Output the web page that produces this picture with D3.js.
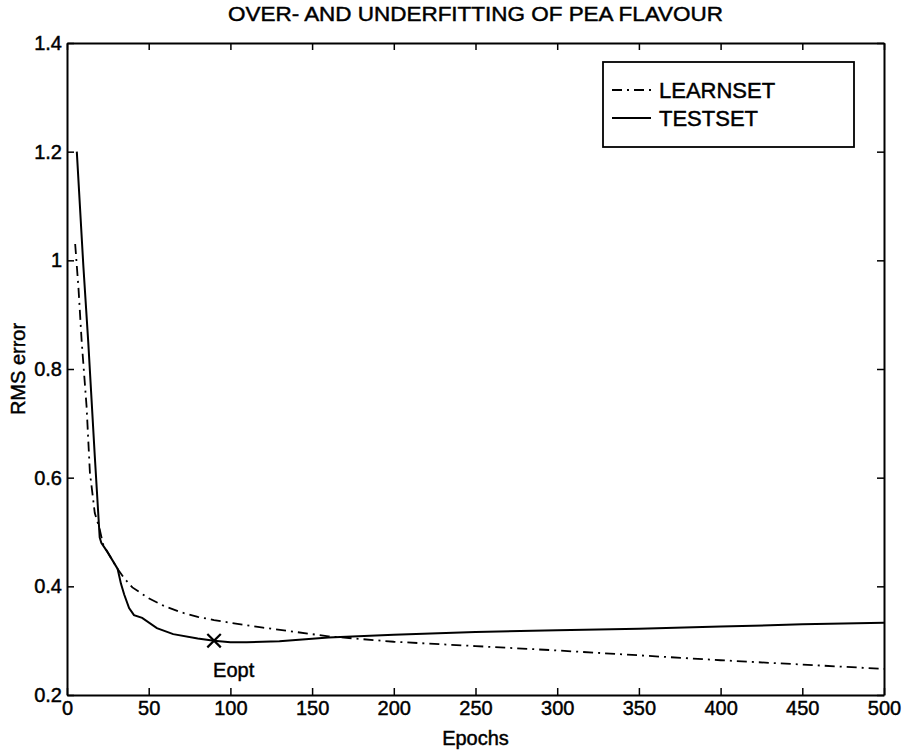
<!DOCTYPE html>
<html><head><meta charset="utf-8">
<script src="https://cdn.jsdelivr.net/npm/d3@7"></script>
<style>body{margin:0;background:#fff}svg{display:block}text{font-family:"Liberation Sans",Arial,sans-serif;fill:#000;stroke:#000;stroke-width:0.45px}</style>
</head><body>
<script>
const titleText = "OVER- AND UNDERFITTING OF PEA FLAVOUR";
const xLabel = "Epochs";
const yLabel = "RMS error";
const seriesNames = ["LEARNSET", "TESTSET"];
const xTicks = [0,50,100,150,200,250,300,350,400,450,500];
const yTicks = [0.2,0.4,0.6,0.8,1.0,1.2,1.4];
const yTickLabels = ["0.2","0.4","0.6","0.8","1","1.2","1.4"];

const learnEpochs = [5,7,9,12,14,17,20,22,25,28,31,35,40,50,60,70,80,90,100,120,140,160,180,200,250,300,350,400,450,500];
const learnRMS    = [1.03,0.95,0.85,0.73,0.61,0.535,0.505,0.478,0.462,0.447,0.432,0.415,0.398,0.378,0.363,0.352,0.344,0.338,0.333,0.324,0.316,0.308,0.303,0.298,0.290,0.282,0.273,0.264,0.256,0.248];

const testEpochs = [6,10,13,17,20,21,25,31,33,35,38,41,46,55,65,80,90,100,110,130,160,200,250,300,350,400,450,500];
const testRMS    = [1.2,0.99,0.85,0.64,0.49,0.48,0.462,0.432,0.405,0.385,0.36,0.347,0.342,0.323,0.312,0.304,0.300,0.297,0.297,0.299,0.306,0.311,0.316,0.319,0.322,0.326,0.330,0.333];

const eoptEpoch = 90, eoptValue = 0.300, eoptLabel = "Eopt";

const W = 908, H = 751;
const m = {left:67, right:W-884, top:43, bottom:H-695};
const svg = d3.select("body").append("svg").attr("width",W).attr("height",H);
const x = d3.scaleLinear().domain([0,500]).range([m.left, W-m.right]);
const y = d3.scaleLinear().domain([0.2,1.4]).range([H-m.bottom, m.top]);
const tl = 7;
const fs = 20;

// axes (MATLAB-style box with inward ticks)
const gB = svg.append("g").attr("transform",`translate(0,${y(0.2)})`)
  .call(d3.axisBottom(x).tickValues(xTicks).tickSizeInner(-tl).tickSizeOuter(0).tickPadding(6));
const gT = svg.append("g").attr("transform",`translate(0,${y(1.4)})`)
  .call(d3.axisTop(x).tickValues(xTicks).tickSizeInner(-tl).tickSizeOuter(0).tickFormat(""));
const gL = svg.append("g").attr("transform",`translate(${x(0)},0)`)
  .call(d3.axisLeft(y).tickValues(yTicks).tickSizeInner(-tl).tickSizeOuter(0).tickPadding(5)
    .tickFormat((d,i)=>yTickLabels[i]));
const gR = svg.append("g").attr("transform",`translate(${x(500)},0)`)
  .call(d3.axisRight(y).tickValues(yTicks).tickSizeInner(-tl).tickSizeOuter(0).tickFormat(""));
[gB,gT,gL,gR].forEach(g=>{
  g.selectAll(".domain").attr("stroke","#000").attr("stroke-width",2);
  g.selectAll(".tick line").attr("stroke","#000").attr("stroke-width",1.5);
  g.selectAll("text").style("font-size",fs+"px").attr("font-family","Liberation Sans, Arial, sans-serif").attr("fill","#000");
});
gB.selectAll("text").attr("dy","0.71em");

// lines
const line = d3.line().x(d=>x(d[0])).y(d=>y(d[1]));
svg.append("path").datum(learnEpochs.map((e,i)=>[e,learnRMS[i]]))
  .attr("d",line).attr("fill","none").attr("stroke","#000").attr("stroke-width",1.8)
  .attr("stroke-dasharray","10,5,2,5");
svg.append("path").datum(testEpochs.map((e,i)=>[e,testRMS[i]]))
  .attr("d",line).attr("fill","none").attr("stroke","#000").attr("stroke-width",2);

// Eopt marker
svg.append("path").attr("d",d3.symbol(d3.symbolX,120)())
  .attr("transform",`translate(${x(eoptEpoch)},${y(eoptValue)})`)
  .attr("fill","none").attr("stroke","#000").attr("stroke-width",2.2);
svg.append("text").attr("x",x(eoptEpoch)-1).attr("y",y(eoptValue)+36)
  .style("font-size",fs+"px").text(eoptLabel);

// title & labels
svg.append("text").attr("x",(m.left+W-m.right)/2).attr("y",21).attr("text-anchor","middle")
  .style("font-size","20px").attr("textLength",495).attr("lengthAdjust","spacingAndGlyphs").text(titleText);
svg.append("text").attr("x",x(250)).attr("y",H-6).attr("text-anchor","middle")
  .style("font-size",fs+"px").text(xLabel);
svg.append("text").attr("transform",`translate(25,${(y(0.2)+y(1.4))/2}) rotate(-90)`)
  .attr("text-anchor","middle").style("font-size",fs+"px").text(yLabel);

// legend
const lg = svg.append("g");
lg.append("rect").attr("x",603).attr("y",62).attr("width",251).attr("height",85)
  .attr("fill","#fff").attr("stroke","#000").attr("stroke-width",1.8);
const dashes = ["10,5,2,5", null];
seriesNames.forEach((n,i)=>{
  const cy = 90 + i*28;
  lg.append("line").attr("x1",612).attr("x2",651).attr("y1",cy).attr("y2",cy)
    .attr("stroke","#000").attr("stroke-width",1.8).attr("stroke-dasharray",dashes[i]);
  lg.append("text").attr("x",659).attr("y",cy).attr("dy","0.36em").style("font-size","22px").text(n);
});
</script>
</body></html>
